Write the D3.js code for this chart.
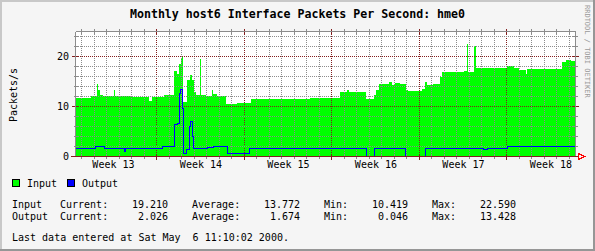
<!DOCTYPE html>
<html>
<head>
<meta charset="utf-8">
<script src="https://cdn.jsdelivr.net/npm/d3@7"></script>
<style>
  html, body { margin: 0; padding: 0; background: #f5f5f5; }
  svg { display: block; }
  text { font-family: "DejaVu Sans Mono", monospace; font-size: 10px; fill: #000; }
</style>
</head>
<body>
<svg id="chart" width="595" height="251"></svg>
<script>
(function () {
  const startTime = new Date(Date.UTC(2000, 2, 27, 11, 10, 2));
  const endTime = new Date(Date.UTC(2000, 4, 6, 11, 10, 2));

  // [days since start, packets/s]
  const inputSteps = [
    [0.00, 11.8], [1.28, 12.2], [1.76, 14.6], [1.84, 13.3], [2.00, 12.3], [2.24, 12.1],
    [3.12, 13.3], [3.20, 12.1], [4.40, 12.0], [5.92, 11.1], [6.16, 12.0], [7.12, 12.4],
    [7.92, 17.2], [8.16, 16.6], [8.32, 18.6], [8.48, 19.6], [8.56, 20.0], [8.64, 11.0],
    [8.96, 15.3], [9.20, 16.3], [9.36, 15.3], [9.52, 13.0], [9.68, 12.3], [10.00, 19.6],
    [10.08, 12.3], [10.48, 12.2], [10.96, 13.3], [11.04, 12.6], [11.36, 12.2], [12.08, 10.6],
    [12.96, 10.7], [14.08, 11.6], [17.20, 11.5], [18.80, 11.7], [21.20, 13.0], [21.76, 13.4],
    [21.92, 13.0], [23.28, 11.6], [23.92, 12.3], [24.08, 13.3], [24.32, 14.6], [25.12, 14.9],
    [25.36, 14.4], [25.60, 14.7], [26.00, 14.5], [26.48, 13.3], [26.64, 13.1], [27.76, 13.6],
    [28.00, 14.9], [28.16, 14.4], [28.64, 14.6], [29.20, 16.0], [29.36, 17.0], [31.12, 17.2],
    [31.36, 22.6], [31.44, 17.0], [31.92, 22.1], [32.08, 17.8], [34.56, 18.1], [35.12, 17.7],
    [35.52, 17.3], [36.08, 16.6], [36.16, 17.5], [38.96, 19.0], [39.28, 19.4], [39.68, 19.2],
    [40.00, 19.2]
  ];
  const outputSteps = [
    [0.00, 1.6], [0.72, 1.7], [1.60, 2.1], [2.32, 1.7], [3.92, 1.1], [4.00, 1.6],
    [6.32, 1.7], [6.96, 2.0], [7.92, 6.4], [8.16, 6.6], [8.32, 12.6], [8.40, 13.4],
    [8.56, 9.7], [8.64, 0.6], [8.88, 1.4], [9.12, 6.0], [9.20, 7.0], [9.36, 4.0],
    [9.44, 1.6], [10.00, 1.7], [10.56, 1.9], [11.04, 2.1], [12.16, 0.7], [13.92, 1.6],
    [23.28, 0.1], [23.92, 1.5], [24.08, 1.6], [26.40, 0.1], [28.00, 1.6], [29.20, 1.7],
    [32.08, 1.6], [32.64, 1.4], [32.96, 1.7], [34.56, 2.1], [40.00, 2.1]
  ];

  const yTicks = [0, 10, 20];
  const weekLabels = ["Week 13", "Week 14", "Week 15", "Week 16", "Week 17", "Week 18"];
  const weekStarts = ["2000-03-27", "2000-04-03", "2000-04-10", "2000-04-17", "2000-04-24", "2000-05-01"];
  const legendNames = ["Input", "Output"];
  const statNames = ["Current:", "Average:", "Min:", "Max:"];
  const inputStats = ["19.210", "13.772", "10.419", "22.590"];
  const outputStats = ["2.026", "1.674", "0.046", "13.428"];
  const title = "Monthly host6 Interface Packets Per Second: hme0";
  const lastUpdate = "Last data entered at Sat May  6 11:10:02 2000.";

  const colors = {
    input: "#00ff00",
    output: "#0000ff",
    grid: "#8c8c8c",
    mgrid: "#821e1e",
    arrow: "#ff0000",
  };

  const svg = d3.select("#chart");
  const W = 595, H = 251;
  const left = 75, right = 575, top = 31.5, bottom = 156.5;
  const dayMs = 86400000;

  const x = d3.scaleUtc().domain([startTime, endTime]).range([left, right]);
  const y = d3.scaleLinear().domain([0, 25]).range([bottom, top]);
  const toDate = (d) => new Date(startTime.getTime() + d * dayMs);

  // frame shading
  svg.append("rect").attr("width", W).attr("height", H).attr("fill", "#f5f5f5");
  svg.append("path").attr("d", `M0,0H${W}V2H2V${H}H0Z`).attr("fill", "#c8c8c8");
  svg.append("path").attr("d", `M${W},${H}H0V${H - 2}H${W - 2}V0H${W}Z`).attr("fill", "#969696");

  // canvas
  svg.append("rect").attr("x", left).attr("y", 32).attr("width", right - left + 1).attr("height", bottom - 32)
    .attr("fill", "#ffffff");

  const area = d3.area()
    .curve(d3.curveStepAfter)
    .x((d) => x(toDate(d[0])))
    .y0(y(0))
    .y1((d) => y(d[1]));
  svg.append("path").datum(inputSteps).attr("d", area)
    .attr("fill", colors.input).attr("shape-rendering", "crispEdges");

  // grid: dotted lines, solid ticks at both ends
  const grid = svg.append("g").attr("shape-rendering", "crispEdges");
  const days = d3.utcDay.range(d3.utcDay.ceil(startTime), endTime);
  days.forEach((day) => {
    const major = day.getUTCDay() === 1;
    const px = Math.floor(x(day)) + 0.5;
    const c = major ? colors.mgrid : colors.grid;
    grid.append("line").attr("x1", px).attr("x2", px).attr("y1", 34).attr("y2", 155)
      .attr("stroke", c).attr("stroke-dasharray", "1,1");
    grid.append("line").attr("x1", px).attr("x2", px).attr("y1", 29).attr("y2", 34).attr("stroke", c);
    grid.append("line").attr("x1", px).attr("x2", px).attr("y1", 155).attr("y2", major ? 160 : 159).attr("stroke", c);
  });
  d3.range(2, 25, 2).forEach((v) => {
    const major = v % 10 === 0;
    const py = y(v);
    const c = major ? colors.mgrid : colors.grid;
    grid.append("line").attr("x1", left + 3).attr("x2", right - 2).attr("y1", py).attr("y2", py)
      .attr("stroke", c).attr("stroke-dasharray", "1,1");
    grid.append("line").attr("x1", left - (major ? 3 : 1)).attr("x2", left + 3).attr("y1", py).attr("y2", py).attr("stroke", c);
    grid.append("line").attr("x1", right - 2).attr("x2", right + (major ? 4 : 3)).attr("y1", py).attr("y2", py).attr("stroke", c);
  });

  // output line
  const line = d3.line()
    .curve(d3.curveStepAfter)
    .x((d) => x(toDate(d[0])))
    .y((d) => Math.round(y(d[1]) - 0.5) + 0.5);
  svg.append("path").datum(outputSteps).attr("d", line)
    .attr("fill", "none").attr("stroke", colors.output).attr("stroke-width", 1)
    .attr("shape-rendering", "crispEdges");

  // borders and axes
  const frame = svg.append("g").attr("shape-rendering", "crispEdges");
  frame.append("line").attr("x1", left + 0.5).attr("x2", right + 0.5).attr("y1", top).attr("y2", top).attr("stroke", colors.grid);
  frame.append("line").attr("x1", right + 0.5).attr("x2", right + 0.5).attr("y1", top).attr("y2", bottom).attr("stroke", colors.grid);
  frame.append("line").attr("x1", left + 0.5).attr("x2", left + 0.5).attr("y1", top).attr("y2", bottom).attr("stroke", colors.grid);
  frame.append("line").attr("x1", left - 4).attr("x2", right + 4).attr("y1", bottom).attr("y2", bottom).attr("stroke", colors.mgrid);
  svg.append("path")
    .attr("d", `M${right + 3.5},${bottom - 3}L${right + 9.5},${bottom}L${right + 3.5},${bottom + 3}Z`)
    .attr("fill", "none").attr("stroke", colors.arrow).attr("shape-rendering", "crispEdges");

  // y axis labels
  const yAxis = svg.append("g").attr("transform", `translate(${left},0)`)
    .call(d3.axisLeft(y).tickValues(yTicks).tickSize(0).tickPadding(6).tickFormat(d3.format("d")));
  yAxis.select(".domain").remove();
  yAxis.selectAll("text").attr("font-family", null).attr("font-size", null).attr("fill", "#000");

  // week labels
  const weekMid = weekStarts.map((s) => new Date(Date.parse(s + "T00:00:00Z") + 3.5 * dayMs));
  const xAxis = svg.append("g").attr("transform", `translate(0,${bottom + 0.5})`)
    .call(d3.axisBottom(x).tickValues(weekMid).tickSize(0).tickPadding(4)
      .tickFormat((d, i) => weekLabels[i]));
  xAxis.select(".domain").remove();
  xAxis.selectAll("text").attr("font-family", null).attr("font-size", null).attr("fill", "#000");

  // title and y label
  svg.append("text").attr("x", 297.5).attr("y", 18).attr("text-anchor", "middle")
    .style("font-weight", "bold").style("font-size", "11.6px").text(title);
  svg.append("text").attr("transform", "translate(17,95) rotate(-90)").attr("text-anchor", "middle")
    .text("Packets/s");
  svg.append("text").attr("transform", "translate(585,5) rotate(90)")
    .style("font-size", "7px").style("fill", "#999").text("RRDTOOL / TOBI OETIKER");

  // legend
  const legendX = [12, 67];
  legendNames.forEach((name, i) => {
    svg.append("rect").attr("x", legendX[i] + 0.5).attr("y", 179.5).attr("width", 7).attr("height", 7)
      .attr("fill", i === 0 ? colors.input : colors.output).attr("stroke", "#000")
      .attr("shape-rendering", "crispEdges");
    svg.append("text").attr("x", legendX[i] + 15).attr("y", 186.5).text(name);
  });

  // statistics
  const labelX = [60, 192, 324, 432];
  const valueX = [168, 300, 408, 516];
  [[inputStats, 208], [outputStats, 220]].forEach(([vals, by], r) => {
    svg.append("text").attr("x", 12).attr("y", by).text(legendNames[r]);
    statNames.forEach((n, i) => {
      svg.append("text").attr("x", labelX[i]).attr("y", by).text(n);
      svg.append("text").attr("x", valueX[i]).attr("y", by).attr("text-anchor", "end").text(vals[i]);
    });
  });

  svg.append("text").attr("x", 12).attr("y", 241).attr("xml:space", "preserve")
    .style("white-space", "pre").text(lastUpdate);
})();
</script>
</body>
</html>
